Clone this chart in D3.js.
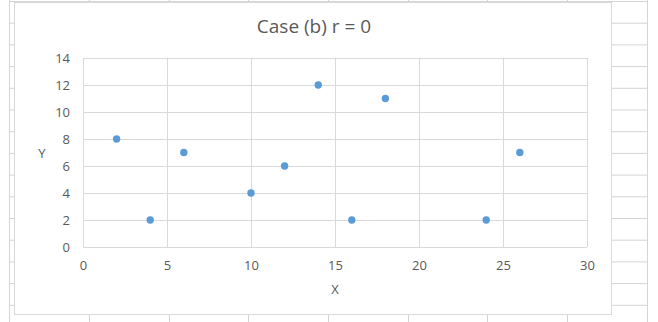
<!DOCTYPE html>
<html>
<head>
<meta charset="utf-8">
<script src="https://cdn.jsdelivr.net/npm/d3@7"></script>
<style>
  body { margin: 0; background: #fff; }
  text { font-family: "Open Sans", "DejaVu Sans", sans-serif; fill: #595959; }
</style>
</head>
<body>
<script>
// data
var xValues = [2, 4, 6, 10, 12, 14, 16, 18, 24, 26];
var yValues = [8, 2, 7, 4, 6, 12, 2, 11, 2, 7];
var xTicks = [0, 5, 10, 15, 20, 25, 30];
var yTicks = [0, 2, 4, 6, 8, 10, 12, 14];
var title = "Case (b) r = 0";

var W = 658, H = 322;
var svg = d3.select("body").append("svg")
    .attr("width", W).attr("height", H);

// spreadsheet cells behind the chart
var cells = svg.append("g").attr("stroke", "#d4d4d4").attr("stroke-width", 1);
var rowYs = d3.range(0, 16).map(function(k) { return 1.5 + k * 21.7; });
var colXs = [9.5, 89.5, 169.5, 248.5, 328.5, 408.5, 487.5, 567.5, 647.5];
rowYs.forEach(function(y) {
  cells.append("line").attr("x1", 9.5).attr("x2", 647.5).attr("y1", y).attr("y2", y);
});
colXs.forEach(function(x) {
  cells.append("line").attr("x1", x).attr("x2", x).attr("y1", 0).attr("y2", H);
});

// chart area
svg.append("rect")
    .attr("x", 14.5).attr("y", 2.5).attr("width", 597).attr("height", 312)
    .attr("fill", "#fff").attr("stroke", "#d9d9d9");

var plot = {left: 83, right: 587, top: 58, bottom: 247};
var x = d3.scaleLinear().domain([0, 30]).range([plot.left, plot.right]);
var y = d3.scaleLinear().domain([0, 14]).range([plot.bottom, plot.top]);

// gridlines
var grid = svg.append("g").attr("stroke", "#d9d9d9").attr("stroke-width", 1);
yTicks.forEach(function(t) {
  grid.append("line")
      .attr("x1", plot.left).attr("x2", plot.right)
      .attr("y1", Math.round(y(t)) + 0.5).attr("y2", Math.round(y(t)) + 0.5);
});
xTicks.forEach(function(t) {
  grid.append("line")
      .attr("x1", Math.round(x(t)) + 0.5).attr("x2", Math.round(x(t)) + 0.5)
      .attr("y1", plot.top).attr("y2", plot.bottom);
});

// axes (labels only)
var xAxis = d3.axisBottom(x).tickValues(xTicks).tickSize(0).tickPadding(0);
svg.append("g")
    .attr("transform", "translate(0," + (plot.bottom + 14) + ")")
    .call(xAxis)
    .call(function(g) { g.select(".domain").remove(); })
    .selectAll("text")
    .attr("font-size", 13).attr("fill", "#595959")
    .attr("font-family", "'Open Sans', sans-serif");

var yAxis = d3.axisLeft(y).tickValues(yTicks).tickSize(0).tickPadding(13);
svg.append("g")
    .attr("transform", "translate(" + plot.left + ",0)")
    .call(yAxis)
    .call(function(g) { g.select(".domain").remove(); })
    .selectAll("text")
    .attr("font-size", 13).attr("fill", "#595959")
    .attr("font-family", "'Open Sans', sans-serif");

// title and axis titles
svg.append("text")
    .attr("x", 314).attr("y", 33)
    .attr("text-anchor", "middle")
    .attr("font-size", 19)
    .text(title);

svg.append("text")
    .attr("x", 335).attr("y", 294)
    .attr("text-anchor", "middle")
    .attr("font-size", 13)
    .text("X");

svg.append("text")
    .attr("x", 42).attr("y", 158)
    .attr("text-anchor", "middle")
    .attr("font-size", 13)
    .text("Y");

// points
svg.append("g").selectAll("circle")
    .data(xValues.map(function(v, i) { return [v, yValues[i]]; }))
    .enter().append("circle")
    .attr("cx", function(d) { return x(d[0]); })
    .attr("cy", function(d) { return y(d[1]); })
    .attr("r", 3.7)
    .attr("fill", "#5B9BD5");
</script>
</body>
</html>
